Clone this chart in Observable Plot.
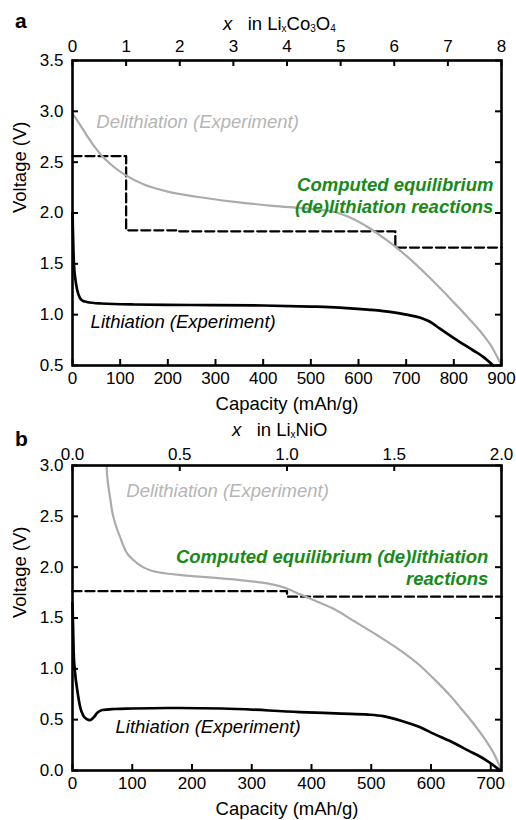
<!DOCTYPE html>
<html><head><meta charset="utf-8">
<script src="https://cdn.jsdelivr.net/npm/d3@7"></script>
<script src="https://cdn.jsdelivr.net/npm/@observablehq/plot@0.6"></script>
<style>
body{margin:0;background:#fff;font-family:"Liberation Sans",Arial,sans-serif;}
#wrap{position:relative;width:516px;height:820px;overflow:hidden;background:#fff;}
.panel{position:absolute;left:0;}
.letter{position:absolute;font-weight:bold;font-size:21px;line-height:1;}
.ttl{position:absolute;font-size:18.5px;line-height:1;white-space:nowrap;}
.ttl sub{font-size:10px;vertical-align:-2px;}
</style></head><body>
<div id="wrap">
  <div id="pa" class="panel" style="top:0"></div>
  <div id="pb" class="panel" style="top:415px"></div>
  <div class="letter" style="left:15px;top:10px">a</div>
  <div class="ttl" style="left:223px;top:15px"><i>x</i>&nbsp;&nbsp;&nbsp;in Li<sub>x</sub>Co<sub>3</sub>O<sub>4</sub></div>
  <div class="letter" style="left:15px;top:428px">b</div>
  <div class="ttl" style="left:232px;top:421px"><i>x</i>&nbsp;&nbsp;&nbsp;in Li<sub>x</sub>NiO</div>
</div>
<script>
// ---------- Panel a : Li_xCo3O4 ----------
const capDomainA = [0, 900];
const voltDomainA = [0.5, 3.5];
const liMaxA = 8;
const yTicksA = [0.5, 1.0, 1.5, 2.0, 2.5, 3.0, 3.5];
const capTicksA = [0, 100, 200, 300, 400, 500, 600, 700, 800, 900];
const liTicksA = [0, 1, 2, 3, 4, 5, 6, 7, 8];

const delithCapA = [0, 10, 25, 45, 62, 85, 112, 150, 200, 260, 340, 420, 500, 550, 580, 620, 660, 700, 750, 800, 830, 860, 880, 900];
const delithVA   = [2.98, 2.91, 2.80, 2.66, 2.56, 2.46, 2.37, 2.28, 2.21, 2.16, 2.11, 2.07, 2.04, 2.01, 1.96, 1.86, 1.73, 1.58, 1.36, 1.12, 0.97, 0.81, 0.68, 0.5];

const lithCapA = [0, 1, 2, 3, 6, 10, 15, 20, 30, 60, 130, 250, 400, 500, 560, 620, 670, 700, 730, 750, 770, 800, 840, 860, 883];
const lithVA   = [2.0, 1.8, 1.62, 1.50, 1.35, 1.24, 1.17, 1.14, 1.125, 1.11, 1.10, 1.095, 1.09, 1.08, 1.07, 1.05, 1.025, 1.0, 0.97, 0.93, 0.865, 0.77, 0.65, 0.59, 0.5];

const eqLiA = [0, 1, 1.96, 6.02, 8];
const eqVA  = [2.56, 1.83, 1.82, 1.66, 1.66];

const labelsA = [
  {cap: 50, v: 2.89, text: "Delithiation (Experiment)", kind: "delith"},
  {cap: 38, v: 0.93, text: "Lithiation (Experiment)", kind: "lith"},
  {cap: 883, v: 2.18, text: "Computed equilibrium\n(de)lithiation reactions", kind: "eq"}
];

// ---------- Panel b : Li_xNiO ----------
const capDomainB = [0, 718];
const voltDomainB = [0, 3.0];
const liMaxB = 2;
const yTicksB = [0.0, 0.5, 1.0, 1.5, 2.0, 2.5, 3.0];
const capTicksB = [0, 100, 200, 300, 400, 500, 600, 700];
const liTicksB = [0, 0.5, 1.0, 1.5, 2.0];

const delithCapB = [57, 58, 60, 63, 66, 72, 80, 89, 102, 115, 130, 155, 186, 230, 270, 300, 326, 354, 382, 410, 437, 471, 510, 549, 580, 605, 630, 649, 670, 690, 705, 718];
const delithVB   = [3.0, 2.9, 2.8, 2.68, 2.56, 2.42, 2.29, 2.16, 2.07, 2.01, 1.97, 1.94, 1.92, 1.90, 1.88, 1.86, 1.84, 1.80, 1.73, 1.66, 1.59, 1.47, 1.33, 1.18, 1.04, 0.90, 0.75, 0.62, 0.47, 0.31, 0.17, 0.0];

const lithCapB = [0, 1, 2, 4, 8, 13, 18, 24, 29, 35, 42, 50, 70, 100, 160, 250, 380, 450, 495, 520, 550, 580, 605, 635, 661, 690, 716];
const lithVB   = [1.65, 1.4, 1.15, 0.98, 0.79, 0.62, 0.54, 0.505, 0.495, 0.52, 0.57, 0.595, 0.605, 0.61, 0.615, 0.61, 0.575, 0.56, 0.55, 0.535, 0.49, 0.43, 0.36, 0.28, 0.20, 0.11, 0.0];

const eqLiB = [0, 1.0, 2.0];
const eqVB  = [1.764, 1.71, 1.71];

const labelsB = [
  {cap: 90, v: 2.75, text: "Delithiation (Experiment)", kind: "delith"},
  {cap: 72, v: 0.43, text: "Lithiation (Experiment)", kind: "lith"},
  {cap: 696, v: 2.0, text: "Computed equilibrium (de)lithiation\nreactions", kind: "eq"}
];

const GRAY = "#ababab", GREEN = "#178a17";
const TICK_FS = 17, LABEL_FS = 18.5, TL = 6;
const W = 516, ML = 72, MR = 15;

function zip(xs, ys) { return xs.map((x, i) => ({cap: x, v: ys[i]})); }

function panel({capDomain, voltDomain, liMax, yTicks, capTicks, liTicks, liFmt,
                delithCap, delithV, lithCap, lithV, eqLi, eqV, labels,
                height, marginTop, marginBottom, topPad}) {
  const capPerLi = capDomain[1] / liMax;
  const eq = eqLi.map((l, i) => ({cap: l * capPerLi, v: eqV[i]}));
  const lab = k => labels.filter(d => d.kind === k);
  const liPos = liTicks.map(l => l * capPerLi);
  const pw = W - ML - MR, ph = height - marginTop - marginBottom;
  const tk = {stroke: "#000", strokeWidth: 2};
  return Plot.plot({
    width: W, height, marginTop, marginBottom, marginLeft: ML, marginRight: MR,
    x: {domain: capDomain},
    y: {domain: voltDomain},
    style: {fontFamily: "'Liberation Sans', Arial, sans-serif", fontSize: "17px", color: "#000", background: "transparent"},
    marks: [
      Plot.line(eq, {x: "cap", y: "v", curve: "step-after", stroke: "#000", strokeWidth: 2.3, strokeDasharray: "9,4"}),
      Plot.line(zip(delithCap, delithV), {x: "cap", y: "v", curve: "monotone-x", stroke: GRAY, strokeWidth: 2.2}),
      Plot.line(zip(lithCap, lithV), {x: "cap", y: "v", curve: "monotone-x", stroke: "#000", strokeWidth: 2.7}),
      Plot.text(lab("delith"), {x: "cap", y: "v", text: "text", textAnchor: "start", fill: "#b5b5b5", fontStyle: "italic", fontSize: LABEL_FS}),
      Plot.text(lab("lith"), {x: "cap", y: "v", text: "text", textAnchor: "start", fill: "#000", fontStyle: "italic", fontSize: LABEL_FS}),
      Plot.text(lab("eq"), {x: "cap", y: "v", text: "text", textAnchor: "end", fill: GREEN, fontStyle: "italic", fontWeight: "bold", fontSize: LABEL_FS, lineHeight: 1.19}),
      // inward tick marks on all four sides
      Plot.ruleY(yTicks, {y: d => d, insetRight: pw - TL, ...tk}),
      Plot.ruleY(yTicks, {y: d => d, insetLeft: pw - TL, ...tk}),
      Plot.ruleX(capTicks, {x: d => d, insetTop: ph - TL, ...tk}),
      Plot.ruleX(liPos, {x: d => d, insetBottom: ph - TL, ...tk}),
      // tick labels
      Plot.axisY({ticks: yTicks, tickSize: 0, tickPadding: 9, tickFormat: d3.format(".1f"), label: null, fontSize: TICK_FS}),
      Plot.axisX({ticks: capTicks, tickSize: 0, tickPadding: 6, tickFormat: d3.format("d"), label: null, fontSize: TICK_FS}),
      Plot.axisX({anchor: "top", ticks: liPos, tickSize: 0, tickPadding: topPad, tickFormat: c => liFmt(c / capPerLi), label: null, fontSize: TICK_FS}),
      Plot.text(["Capacity (mAh/g)"], {frameAnchor: "bottom", dy: 39, lineAnchor: "middle", fontSize: LABEL_FS}),
      Plot.text(["Voltage (V)"], {frameAnchor: "left", rotate: -90, dx: -52, fontSize: LABEL_FS}),
      Plot.frame({stroke: "#000", strokeWidth: 2.6})
    ]
  });
}

const a = panel({capDomain: capDomainA, voltDomain: voltDomainA, liMax: liMaxA, yTicks: yTicksA,
  capTicks: capTicksA, liTicks: liTicksA, liFmt: d3.format("d"),
  delithCap: delithCapA, delithV: delithVA, lithCap: lithCapA, lithV: lithVA,
  eqLi: eqLiA, eqV: eqVA, labels: labelsA, height: 415, marginTop: 60, marginBottom: 50, topPad: 9});
document.getElementById("pa").append(a);

const b = panel({capDomain: capDomainB, voltDomain: voltDomainB, liMax: liMaxB, yTicks: yTicksB,
  capTicks: capTicksB, liTicks: liTicksB, liFmt: d3.format(".1f"),
  delithCap: delithCapB, delithV: delithVB, lithCap: lithCapB, lithV: lithVB,
  eqLi: eqLiB, eqV: eqVB, labels: labelsB, height: 405, marginTop: 50, marginBottom: 50, topPad: 6});
document.getElementById("pb").append(b);
</script>
</body></html>
